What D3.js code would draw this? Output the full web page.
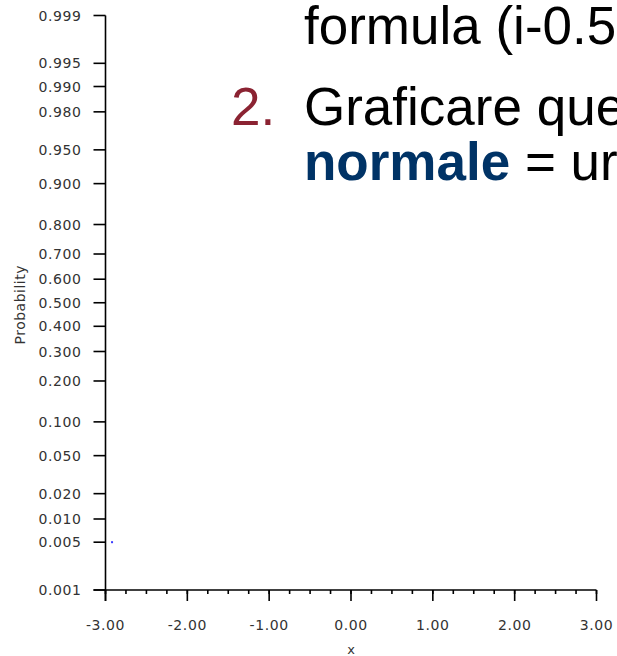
<!DOCTYPE html>
<html>
<head>
<meta charset="utf-8">
<script src="https://cdn.jsdelivr.net/npm/d3@7"></script>
<style>
  html, body { margin: 0; padding: 0; background: #fff; overflow: hidden; }
  svg { display: block; }
</style>
</head>
<body>
<svg id="chart" width="617" height="656"></svg>
<script>
// ---- data ----
const probTicks = [0.001, 0.005, 0.010, 0.020, 0.050, 0.100, 0.200, 0.300, 0.400, 0.500,
                   0.600, 0.700, 0.800, 0.900, 0.950, 0.980, 0.990, 0.995, 0.999];
const xMajorTicks = [-3, -2, -1, 0, 1, 2, 3];
const xMinorTicks = d3.range(-3, 3.001, 0.25);
const pointsX = [-2.92];
const pointsP = [0.005];
const slideLines = ["formula (i-0.5", "Graficare que", "normale", " = ur"];
const xTitle = "x";
const yTitle = "Probability";

// ---- helpers ----
// inverse normal CDF (Acklam)
function probit(p) {
  const a = [-3.969683028665376e+01, 2.209460984245205e+02, -2.759285104469687e+02, 1.383577518672690e+02, -3.066479806614716e+01, 2.506628277459239e+00];
  const b = [-5.447609879822406e+01, 1.615858368580409e+02, -1.556989798598866e+02, 6.680131188771972e+01, -1.328068155288572e+01];
  const c = [-7.784894002430293e-03, -3.223964580411365e-01, -2.400758277161838e+00, -2.549732539343734e+00, 4.374664141464968e+00, 2.938163982698783e+00];
  const d = [7.784695709041462e-03, 3.224671290700398e-01, 2.445134137142996e+00, 3.754408661907416e+00];
  const pl = 0.02425, ph = 1 - pl;
  let q, r;
  if (p < pl) { q = Math.sqrt(-2 * Math.log(p));
    return (((((c[0]*q+c[1])*q+c[2])*q+c[3])*q+c[4])*q+c[5]) / ((((d[0]*q+d[1])*q+d[2])*q+d[3])*q+1); }
  if (p > ph) { q = Math.sqrt(-2 * Math.log(1 - p));
    return -(((((c[0]*q+c[1])*q+c[2])*q+c[3])*q+c[4])*q+c[5]) / ((((d[0]*q+d[1])*q+d[2])*q+d[3])*q+1); }
  q = p - 0.5; r = q * q;
  return (((((a[0]*r+a[1])*r+a[2])*r+a[3])*r+a[4])*r+a[5])*q / (((((b[0]*r+b[1])*r+b[2])*r+b[3])*r+b[4])*r+1);
}

const svg = d3.select("#chart");
const plotLeft = 105.5, plotRight = 596.5, plotTop = 15.5, plotBottom = 590;

const x = d3.scaleLinear().domain([-3, 3]).range([plotLeft, plotRight]);
const zScale = d3.scaleLinear().domain([probit(0.001), probit(0.999)]).range([plotBottom, plotTop]);
const y = p => zScale(probit(p));

const tickFont = "'DejaVu Sans', Verdana, sans-serif";
const fmtX = d => d3.format(".2f")(d).replace("\u2212", "-");

// y axis
const yAxisG = svg.append("g").attr("transform", `translate(${plotLeft},0)`);
yAxisG.append("line").attr("x1", 0).attr("x2", 0).attr("y1", plotTop).attr("y2", plotBottom + 11)
  .attr("stroke", "#000").attr("stroke-width", 1.6);
yAxisG.selectAll("line.tick").data(probTicks).join("line").attr("class", "tick")
  .attr("x1", -12).attr("x2", 0).attr("y1", d => y(d)).attr("y2", d => y(d))
  .attr("stroke", "#000").attr("stroke-width", 1.6);
yAxisG.selectAll("text").data(probTicks).join("text")
  .attr("x", -24).attr("y", d => y(d)).attr("dy", "0.36em")
  .attr("text-anchor", "end")
  .style("font-family", tickFont).style("font-size", "14px").style("letter-spacing", "0.6px")
  .attr("fill", "#333")
  .text(d => d3.format(".3f")(d));

// x axis
const xAxisG = svg.append("g").attr("transform", `translate(0,${plotBottom})`);
xAxisG.append("line").attr("x1", plotLeft - 12).attr("x2", plotRight).attr("y1", 0).attr("y2", 0)
  .attr("stroke", "#000").attr("stroke-width", 1.6);
xAxisG.selectAll("line.minor").data(xMinorTicks).join("line").attr("class", "minor")
  .attr("x1", d => x(d)).attr("x2", d => x(d)).attr("y1", 0).attr("y2", 4)
  .attr("stroke", "#000").attr("stroke-width", 1.6);
xAxisG.selectAll("line.major").data(xMajorTicks).join("line").attr("class", "major")
  .attr("x1", d => x(d)).attr("x2", d => x(d)).attr("y1", 0).attr("y2", 11)
  .attr("stroke", "#000").attr("stroke-width", 1.6);
xAxisG.selectAll("text").data(xMajorTicks).join("text")
  .attr("x", d => x(d)).attr("y", 40)
  .attr("text-anchor", "middle")
  .style("font-family", tickFont).style("font-size", "14px").style("letter-spacing", "0.6px")
  .attr("fill", "#333")
  .text(fmtX);

// axis titles
svg.append("text").attr("x", (plotLeft + plotRight) / 2).attr("y", 654)
  .attr("text-anchor", "middle")
  .style("font-family", tickFont).style("font-size", "13px").attr("fill", "#333")
  .text(xTitle);
svg.append("text").attr("transform", `translate(25,${(plotTop + plotBottom) / 2 + 2}) rotate(-90)`)
  .attr("text-anchor", "middle")
  .style("font-family", tickFont).style("font-size", "14px").style("letter-spacing", "0.5px")
  .attr("fill", "#333")
  .text(yTitle);

// data points
svg.selectAll("rect.pt").data(pointsX.map((v, i) => [v, pointsP[i]])).join("rect").attr("class", "pt")
  .attr("x", d => x(d[0]) - 1).attr("y", d => y(d[1]) - 1).attr("width", 2).attr("height", 2)
  .attr("fill", "#3a3aff");

// overlaid slide text
const slideFont = "'Liberation Sans', Arial, sans-serif";
svg.append("text").attr("x", 304).attr("y", 44)
  .style("font-family", slideFont).style("font-size", "53px").attr("fill", "#000")
  .text(slideLines[0]);
svg.append("text").attr("x", 231).attr("y", 125)
  .style("font-family", slideFont).style("font-size", "53px").attr("fill", "#8B2332")
  .text("2.");
svg.append("text").attr("x", 304).attr("y", 125)
  .style("font-family", slideFont).style("font-size", "53px").attr("fill", "#000")
  .text(slideLines[1]);
const t3 = svg.append("text").attr("x", 304).attr("y", 180)
  .style("font-family", slideFont).style("font-size", "53px");
t3.append("tspan").attr("font-weight", "bold").attr("fill", "#003366").text(slideLines[2]);
t3.append("tspan").attr("fill", "#000").text(slideLines[3]);
</script>
</body>
</html>
